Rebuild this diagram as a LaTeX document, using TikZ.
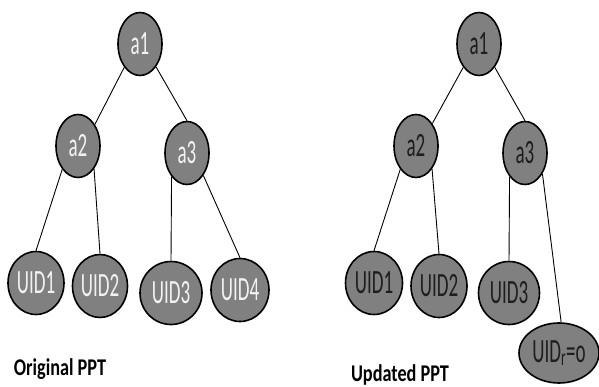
\documentclass[tikz,border=0pt]{standalone}
\usepackage{fontspec}
\setmainfont{Carlito}
\newfontfamily\treefont{Carlito}[FakeStretch=0.56]
\newfontfamily\capfont{Carlito}[FakeStretch=0.76]
\usetikzlibrary{shapes.geometric}
\definecolor{nodegray}{HTML}{808080}
\definecolor{lighttext}{HTML}{F2F2F2}
\definecolor{darktext}{HTML}{1E1E1E}

\begin{document}
\begin{tikzpicture}[
    x=1pt, y=-1pt,
    tnode/.style={ellipse, draw=black, line width=1.6pt, fill=nodegray, inner sep=0pt,
        minimum width=44pt, minimum height=63pt, font=\treefont\fontsize{34}{36}\selectfont},
    leaf/.style={tnode, inner xsep=-3pt},
    old/.style={text=lighttext},
    new/.style={text=darktext},
    link/.style={line width=0.9pt},
    caption/.style={font=\capfont\bfseries\fontsize{24}{26}\selectfont}
]
\useasboundingbox (0,0) rectangle (599,387);

% original tree
\node[tnode, old] (oa1) at (140,44) {a1};
\node[tnode, old] (oa2) at (78,146) {a2};
\node[tnode, old] (oa3) at (187,153) {a3};
\node[leaf, old, minimum width=56pt] (ouid1) at (36,283) {UID1};
\node[leaf, old, minimum width=55pt] (ouid2) at (100,286) {UID2};
\node[leaf, old, minimum width=62pt] (ouid3) at (171,293) {UID3};
\node[leaf, old, minimum width=58pt] (ouid4) at (240,290) {UID4};
\node[caption] (orig) at (60,369) {Original PPT};

\draw[link] (oa1.236) -- (oa2.52);
\draw[link] (oa1.305) -- (oa3.north);
\draw[link] (oa2.236) -- (ouid1.north);
\draw[link] (oa2.305) -- (ouid2.north);
\draw[link] (oa3.237) -- (ouid3.north);
\draw[link] (oa3.306) -- (ouid4.north);

% updated tree
\node[tnode, new] (na1) at (479,44) {a1};
\node[tnode, new] (na2) at (416,146) {a2};
\node[tnode, new] (na3) at (525,153) {a3};
\node[leaf, new, minimum width=57pt] (nuid1) at (374,283) {UID1};
\node[leaf, new, minimum width=56pt] (nuid2) at (439,286) {UID2};
\node[leaf, new, minimum width=61pt] (nuid3) at (509,293) {UID3};
\node[leaf, new, minimum width=80pt, minimum height=60pt] (nuidr) at (559,353) {UID\textsubscript{r}=o};
\node[caption] (upd) at (400,375) {Updated PPT};

\draw[link] (na1.236) -- (na2.54);
\draw[link] (na1.304) -- (na3.north);
\draw[link] (na2.236) -- (nuid1.north);
\draw[link] (na2.305) -- (nuid2.north);
\draw[link] (na3.237) -- (nuid3.north);
\draw[link] (na3.310) -- (nuidr.86);
\end{tikzpicture}
\end{document}
